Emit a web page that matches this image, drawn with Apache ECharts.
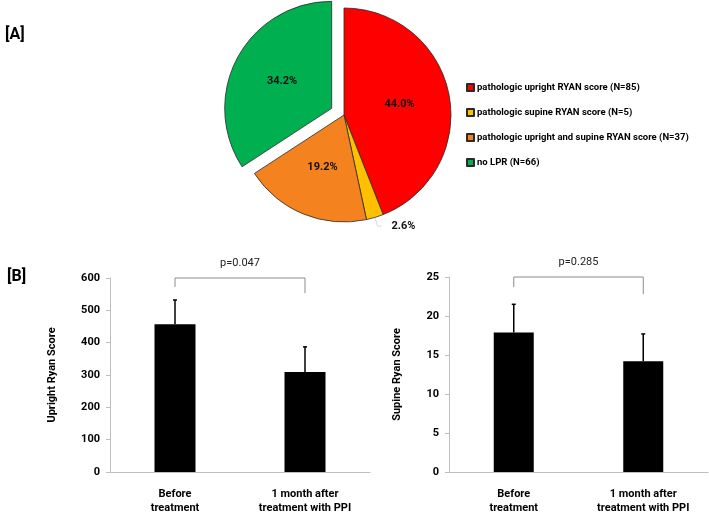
<!DOCTYPE html>
<html>
<head>
<meta charset="utf-8">
<script src="https://cdn.jsdelivr.net/npm/echarts@6/dist/echarts.min.js"></script>
<style>
  html, body { margin: 0; padding: 0; background: #fff; }
  #chart { width: 709px; height: 515px; }
</style>
</head>
<body>
<div id="chart"></div>
<script>
// Pie: LPR groups
const pieNames = [
    'pathologic upright RYAN score (N=85)',
    'pathologic supine RYAN score (N=5)',
    'pathologic upright and supine RYAN score (N=37)',
    'no LPR (N=66)'
];
const pieCounts = [85, 5, 37, 66];
const pieColors = ['#ff0000', '#ffc000', '#f4821f', '#00b050'];

// Bars: before / after PPI
const barCategories = ['Before\ntreatment', '1 month after\ntreatment with PPI'];
const uprightMeans = [457, 309];
const uprightErrors = [75, 78];
const supineMeans = [17.9, 14.2];
const supineErrors = [3.6, 3.5];

// significance brackets: [top, left leg end, right leg end]
const uprightBracket = [600, 572, 553];
const supineBracket = [25, 23.7, 22.8];
const pValues = ['p=0.047', 'p=0.285'];

const font = 'Roboto';

let ec = echarts.init(document.getElementById('chart'));

function errorRender(params, api) {
    let base = api.coord([api.value(0), api.value(1)]);
    let top = api.coord([api.value(0), api.value(1) + api.value(2)]);
    let style = { stroke: '#000', lineWidth: 1.5 };
    return {
        type: 'group',
        children: [
            { type: 'line', shape: { x1: base[0], y1: base[1], x2: top[0], y2: top[1] }, style: style },
            { type: 'line', shape: { x1: top[0] - 2, y1: top[1], x2: top[0] + 2, y2: top[1] }, style: style }
        ]
    };
}

function bracketRender(label) {
    return function (params, api) {
        let l0 = api.coord([0, api.value(1)]);
        let lt = api.coord([0, api.value(0)]);
        let rt = api.coord([1, api.value(0)]);
        let r0 = api.coord([1, api.value(2)]);
        return {
            type: 'group',
            children: [
                {
                    type: 'polyline',
                    shape: { points: [l0, lt, rt, r0] },
                    style: { stroke: '#8c8c8c', lineWidth: 1, fill: null }
                },
                {
                    type: 'text',
                    style: {
                        text: label, x: (lt[0] + rt[0]) / 2, y: lt[1] - 9,
                        align: 'center', verticalAlign: 'bottom',
                        fontFamily: font, fontSize: 11, fill: '#222'
                    }
                }
            ]
        };
    };
}

function valueAxis(gridIndex, name, max, interval, gap) {
    return {
        type: 'value', gridIndex: gridIndex, min: 0, max: max, interval: interval,
        name: name, nameLocation: 'middle', nameGap: gap,
        nameTextStyle: { fontFamily: font, fontWeight: 'bold', fontSize: 11, color: '#000' },
        axisLine: { show: true, lineStyle: { color: '#bfbfbf' } },
        axisTick: { show: true, length: 4, lineStyle: { color: '#bfbfbf' } },
        axisLabel: { fontFamily: font, fontWeight: 'bold', fontSize: 11, color: '#000', margin: 10 },
        splitLine: { show: false }
    };
}

function catAxis(gridIndex) {
    return {
        type: 'category', gridIndex: gridIndex, data: barCategories,
        axisLine: { lineStyle: { color: '#bfbfbf' } },
        axisTick: { show: false },
        axisLabel: {
            interval: 0, margin: 15, fontFamily: font, fontWeight: 'bold',
            fontSize: 11, lineHeight: 14, color: '#000'
        }
    };
}

let option = {
    animation: false,
    title: [
        { text: '[A]', left: 0, top: 22, textStyle: { fontFamily: font, fontSize: 16, fontWeight: 'bold', color: '#000' } },
        { text: '[B]', left: 2, top: 264, textStyle: { fontFamily: font, fontSize: 16, fontWeight: 'bold', color: '#000' } }
    ],
    legend: {
        data: pieNames,
        orient: 'vertical', left: 461, top: 77,
        itemWidth: 7, itemHeight: 7, itemGap: 14, icon: 'rect',
        selectedMode: false,
        textStyle: { fontFamily: font, fontWeight: 'bold', fontSize: 9.5, lineHeight: 11, color: '#000', padding: [0, 0, 0, -2] }
    },
    grid: [
        { left: 110, top: 278, width: 260, height: 194 },
        { left: 449, top: 277, width: 259, height: 197 }
    ],
    xAxis: [catAxis(0), catAxis(1)],
    yAxis: [
        valueAxis(0, 'Upright Ryan Score', 600, 100, 52),
        valueAxis(1, 'Supine Ryan Score', 25, 5, 46)
    ],
    series: [
        {
            type: 'pie',
            center: [344, 115], radius: 107,
            startAngle: 90, clockwise: true,
            selectedMode: 'single', selectedOffset: 14,
            percentPrecision: 2,
            itemStyle: { borderColor: '#2a2a2a', borderWidth: 0.8 },
            label: {
                position: 'inside', fontFamily: font, fontWeight: 'bold', fontSize: 11, color: '#111',
                formatter: p => p.percent.toFixed(1) + '%'
            },
            emphasis: { disabled: true },
            data: pieNames.map((n, i) => {
                let d = { name: n, value: pieCounts[i], itemStyle: { color: pieColors[i] } };
                if (i === 1) {
                    d.label = { position: 'outside', color: '#111', distanceToLabelLine: 10 };
                    d.labelLine = { show: true, length: 9, length2: 4, lineStyle: { color: '#d9d9d9', width: 1 } };
                }
                if (i === 3) d.selected = true;
                return d;
            })
        },
        {
            type: 'bar', xAxisIndex: 0, yAxisIndex: 0, barWidth: 41,
            itemStyle: { color: '#000' }, data: uprightMeans
        },
        {
            type: 'custom', xAxisIndex: 0, yAxisIndex: 0, renderItem: errorRender,
            data: uprightMeans.map((v, i) => [i, v, uprightErrors[i]]), z: 3
        },
        {
            type: 'custom', xAxisIndex: 0, yAxisIndex: 0, renderItem: bracketRender(pValues[0]),
            data: [uprightBracket]
        },
        {
            type: 'bar', xAxisIndex: 1, yAxisIndex: 1, barWidth: 40,
            itemStyle: { color: '#000' }, data: supineMeans
        },
        {
            type: 'custom', xAxisIndex: 1, yAxisIndex: 1, renderItem: errorRender,
            data: supineMeans.map((v, i) => [i, v, supineErrors[i]]), z: 3
        },
        {
            type: 'custom', xAxisIndex: 1, yAxisIndex: 1, renderItem: bracketRender(pValues[1]),
            data: [supineBracket]
        }
    ]
};

ec.setOption(option);
</script>
</body>
</html>
